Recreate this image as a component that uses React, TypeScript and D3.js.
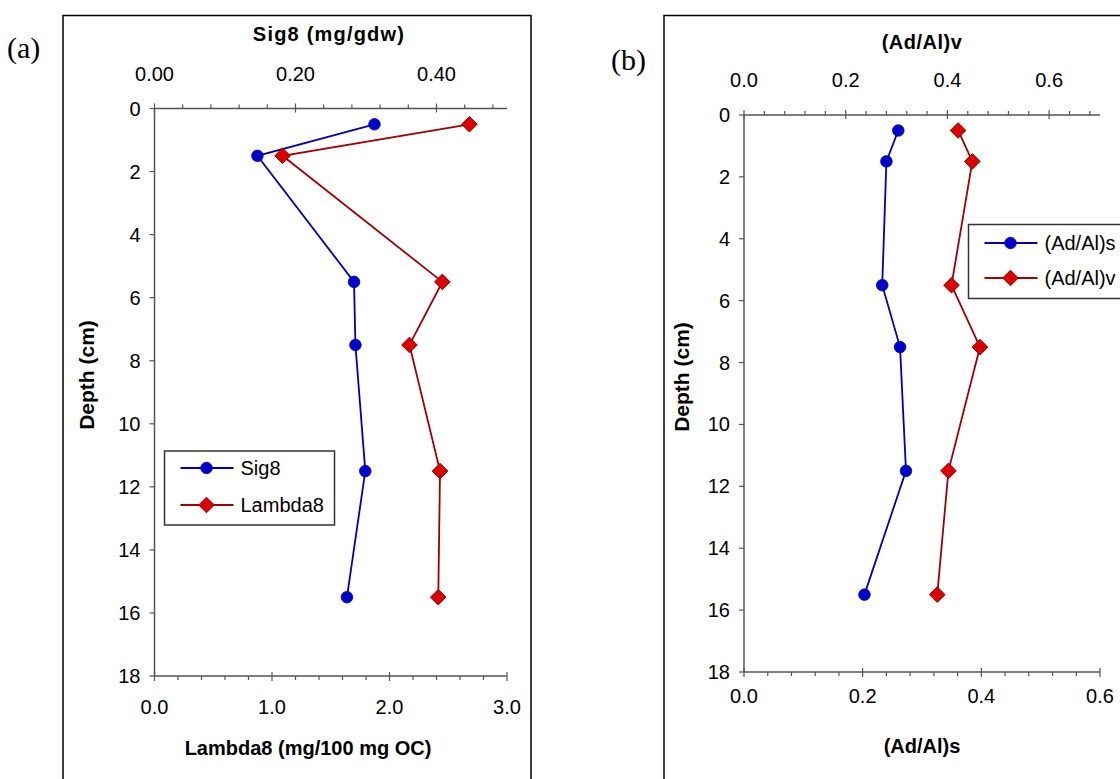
import React from 'react';
import * as d3 from 'd3';

// ---- data ----
const depths = [0.5, 1.5, 5.5, 7.5, 11.5, 15.5];
const sig8 = [0.312, 0.146, 0.283, 0.285, 0.299, 0.273];
const lambda8 = [2.68, 1.09, 2.45, 2.17, 2.43, 2.415];
const adAlS = [0.26, 0.24, 0.233, 0.263, 0.273, 0.203];
const adAlV = [0.421, 0.449, 0.408, 0.464, 0.402, 0.38];

const depthTicks = [0, 2, 4, 6, 8, 10, 12, 14, 16, 18];
const sigTicks = [0, 0.2, 0.4];
const lambdaTicks = [0, 1, 2, 3];
const adVTicks = [0, 0.2, 0.4, 0.6];
const adSTicks = [0, 0.2, 0.4, 0.6];

const FONT = "'Liberation Sans', Arial, sans-serif";
const BLUE_LINE = '#0000b4';
const BLUE_FILL = '#0000cc';
const RED_LINE = '#a00000';
const RED_FILL = '#dd0000';
const RED_EDGE = '#8b0000';
const AXIS = '#555';

type Series = { values: number[]; axis: 'top' | 'bottom'; kind: 'circle' | 'diamond'; name: string };

type PanelProps = {
  x0: number; x1: number; y0: number; y1: number;
  topDomain: [number, number]; topTicks: number[]; topFmt: (v: number) => string; topMinor: number;
  botDomain: [number, number]; botTicks: number[]; botFmt: (v: number) => string; botMinor: number;
  topTitle: string; botTitle: string; topTitleSpacing: number;
  topTitleX: number; botTitleX: number;
  topLabelY: number; topTitleY: number; botLabelY: number; botTitleY: number;
  depthTitleX: number; depthTitleY: number;
  series: Series[];
  legend: { x: number; y: number; w: number; h: number; rows: number[] };
};

function Marker({ kind, x, y }: { kind: 'circle' | 'diamond'; x: number; y: number }) {
  if (kind === 'circle') {
    return <circle cx={x} cy={y} r={5.8} fill={BLUE_FILL} stroke={BLUE_LINE} strokeWidth={0.8} />;
  }
  const s = 7.8;
  return (
    <path
      d={`M${x},${y - s}L${x + s},${y}L${x},${y + s}L${x - s},${y}Z`}
      fill={RED_FILL}
      stroke={RED_EDGE}
      strokeWidth={1}
    />
  );
}

function Panel(p: PanelProps) {
  const yS = d3.scaleLinear().domain([0, 18]).range([p.y0, p.y1]);
  const topS = d3.scaleLinear().domain(p.topDomain).range([p.x0, p.x1]);
  const botS = d3.scaleLinear().domain(p.botDomain).range([p.x0, p.x1]);
  const topMinor = d3.range(0, p.topDomain[1] - 1e-9, p.topMinor).filter((v) => !p.topTicks.some((t) => Math.abs(t - v) < 1e-6));
  const botMinor = d3.range(0, p.botDomain[1] - 1e-9, p.botMinor).filter((v) => !p.botTicks.some((t) => Math.abs(t - v) < 1e-6));

  return (
    <g>
      {/* left axis */}
      <line x1={p.x0} x2={p.x0} y1={p.y0} y2={p.y1} stroke={AXIS} strokeWidth={1.5} />
      {depthTicks.map((t) => (
        <g key={'d' + t}>
          <line x1={p.x0 - 5} x2={p.x0} y1={yS(t)} y2={yS(t)} stroke={AXIS} strokeWidth={1.2} />
          <text x={p.x0 - 14} y={yS(t)} dy="0.35em" textAnchor="end" fontFamily={FONT} fontSize={20} fill="#000">
            {t}
          </text>
        </g>
      ))}
      {/* top axis */}
      <line x1={p.x0} x2={p.x1} y1={p.y0} y2={p.y0} stroke={AXIS} strokeWidth={1.5} />
      {topMinor.map((t, i) => (
        <line key={'tm' + i} x1={topS(t)} x2={topS(t)} y1={p.y0 - 4} y2={p.y0} stroke={AXIS} strokeWidth={1.2} />
      ))}
      {p.topTicks.map((t) => (
        <g key={'tt' + t}>
          <line x1={topS(t)} x2={topS(t)} y1={p.y0 - 5} y2={p.y0 + 4} stroke={AXIS} strokeWidth={1.2} />
          <text x={topS(t)} y={p.topLabelY} dy="0.35em" textAnchor="middle" fontFamily={FONT} fontSize={20} fill="#000">
            {p.topFmt(t)}
          </text>
        </g>
      ))}
      {/* bottom axis */}
      <line x1={p.x0} x2={p.x1} y1={p.y1} y2={p.y1} stroke={AXIS} strokeWidth={1.5} />
      {botMinor.map((t, i) => (
        <line key={'bm' + i} x1={botS(t)} x2={botS(t)} y1={p.y1} y2={p.y1 + 4} stroke={AXIS} strokeWidth={1.2} />
      ))}
      {p.botTicks.map((t) => (
        <g key={'bt' + t}>
          <line x1={botS(t)} x2={botS(t)} y1={p.y1 - 4} y2={p.y1 + 5} stroke={AXIS} strokeWidth={1.2} />
          <text x={botS(t)} y={p.botLabelY} dy="0.35em" textAnchor="middle" fontFamily={FONT} fontSize={20} fill="#000">
            {p.botFmt(t)}
          </text>
        </g>
      ))}
      {/* titles */}
      <text
        x={p.topTitleX}
        y={p.topTitleY}
        dy="0.35em"
        textAnchor="middle"
        fontFamily={FONT}
        fontWeight="bold"
        fontSize={20}
        letterSpacing={p.topTitleSpacing}
      >
        {p.topTitle}
      </text>
      <text x={p.botTitleX} y={p.botTitleY} dy="0.35em" textAnchor="middle" fontFamily={FONT} fontWeight="bold" fontSize={20}>
        {p.botTitle}
      </text>
      <text
        transform={`translate(${p.depthTitleX},${p.depthTitleY}) rotate(-90)`}
        dy="0.35em"
        textAnchor="middle"
        fontFamily={FONT}
        fontWeight="bold"
        fontSize={21}
      >
        Depth (cm)
      </text>
      {/* series */}
      {p.series.map((s, si) => {
        const xs = s.axis === 'top' ? topS : botS;
        const line = d3
          .line<number>()
          .x((v) => xs(v))
          .y((_, i) => yS(depths[i]));
        const col = s.kind === 'circle' ? BLUE_LINE : RED_LINE;
        return (
          <g key={'s' + si}>
            <path d={line(s.values) || ''} fill="none" stroke={col} strokeWidth={1.8} />
            {s.values.map((v, i) => (
              <Marker key={i} kind={s.kind} x={xs(v)} y={yS(depths[i])} />
            ))}
          </g>
        );
      })}
      {/* legend */}
      <rect x={p.legend.x} y={p.legend.y} width={p.legend.w} height={p.legend.h} fill="#fff" stroke="#333" strokeWidth={1.5} />
      {p.series.map((s, si) => {
        const ry = p.legend.rows[si];
        const lx = p.legend.x + 16;
        const col = s.kind === 'circle' ? BLUE_LINE : RED_LINE;
        return (
          <g key={'l' + si}>
            <line x1={lx} x2={lx + 53} y1={ry} y2={ry} stroke={col} strokeWidth={1.8} />
            <Marker kind={s.kind} x={lx + 26} y={ry} />
            <text x={lx + 60} y={ry} dy="0.35em" fontFamily={FONT} fontSize={20}>
              {s.name}
            </text>
          </g>
        );
      })}
    </g>
  );
}

export default function App() {
  const f2 = d3.format('.2f');
  const f1 = d3.format('.1f');
  return (
    <svg width={1120} height={779} style={{ position: 'absolute', left: 0, top: 0, background: '#fff' }}>
      <rect x={0} y={0} width={1120} height={779} fill="#fff" />
      {/* panel frames */}
      <rect x={63} y={15.5} width={468} height={800} fill="none" stroke="#000" strokeWidth={1.5} />
      <rect x={664} y={15.5} width={500} height={800} fill="none" stroke="#000" strokeWidth={1.5} />
      <text x={7} y={58} fontFamily="'Liberation Serif', 'Times New Roman', serif" fontSize={30}>
        (a)
      </text>
      <text x={611} y={70} fontFamily="'Liberation Serif', 'Times New Roman', serif" fontSize={30}>
        (b)
      </text>
      <Panel
        x0={154.5}
        x1={507}
        y0={108.5}
        y1={676}
        topDomain={[0, 0.5]}
        topTicks={sigTicks}
        topFmt={f2}
        topMinor={0.04}
        botDomain={[0, 3]}
        botTicks={lambdaTicks}
        botFmt={f1}
        botMinor={0.2}
        topTitle="Sig8 (mg/gdw)"
        botTitle="Lambda8 (mg/100 mg OC)"
        topTitleSpacing={1.2}
        topTitleX={329}
        botTitleX={308}
        topLabelY={74}
        topTitleY={34}
        botLabelY={707}
        botTitleY={748}
        depthTitleX={87}
        depthTitleY={375}
        series={[
          { values: sig8, axis: 'top', kind: 'circle', name: 'Sig8' },
          { values: lambda8, axis: 'bottom', kind: 'diamond', name: 'Lambda8' },
        ]}
        legend={{ x: 164.5, y: 451, w: 170, h: 74, rows: [468, 505] }}
      />
      <Panel
        x0={744}
        x1={1100}
        y0={115}
        y1={672}
        topDomain={[0, 0.7]}
        topTicks={adVTicks}
        topFmt={f1}
        topMinor={0.04}
        botDomain={[0, 0.6]}
        botTicks={adSTicks}
        botFmt={f1}
        botMinor={0.04}
        topTitle="(Ad/Al)v"
        botTitle="(Ad/Al)s"
        topTitleSpacing={0.5}
        topTitleX={922}
        botTitleX={922}
        topLabelY={80}
        topTitleY={42}
        botLabelY={696}
        botTitleY={746}
        depthTitleX={682}
        depthTitleY={377}
        series={[
          { values: adAlS, axis: 'bottom', kind: 'circle', name: '(Ad/Al)s' },
          { values: adAlV, axis: 'top', kind: 'diamond', name: '(Ad/Al)v' },
        ]}
        legend={{ x: 968.5, y: 224.5, w: 200, h: 74, rows: [243, 278] }}
      />
    </svg>
  );
}
